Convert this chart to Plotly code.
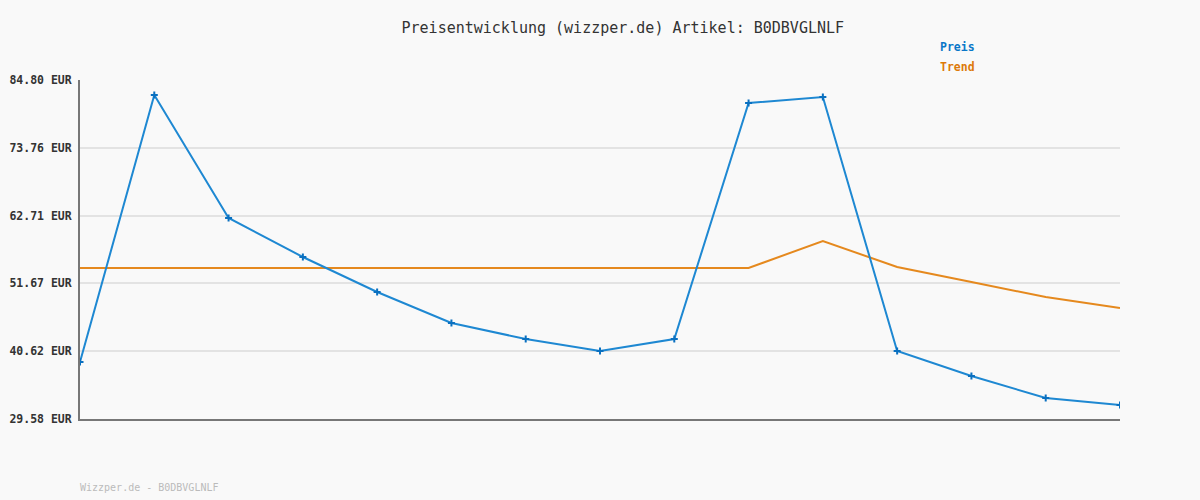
import plotly.graph_objects as go

x_idx = list(range(15))
preis = [38.86, 82.36, 62.32, 55.97, 50.27, 45.22, 42.61, 40.66, 42.61, 81.05, 82.03, 40.66, 36.58, 33.00, 31.86]
trend = [54.18, 54.18, 54.18, 54.18, 54.18, 54.18, 54.18, 54.18, 54.18, 54.18, 58.57, 54.34, 51.90, 49.45, 47.66]
y_ticks = [29.58, 40.62, 51.67, 62.71, 73.76, 84.80]
y_tick_labels = ["29.58 EUR", "40.62 EUR", "51.67 EUR", "62.71 EUR", "73.76 EUR", "84.80 EUR"]
title_text = "Preisentwicklung (wizzper.de) Artikel: B0DBVGLNLF"
footer_text = "Wizzper.de - B0DBVGLNLF"

FONT = "DejaVu Sans Mono"
BLUE = "#1e88d2"
ORANGE = "#e5891e"

fig = go.Figure()
fig.add_trace(go.Scatter(
    x=x_idx, y=trend, mode="lines", name="Trend",
    line=dict(color=ORANGE, width=2), hoverinfo="skip", showlegend=False,
))
fig.add_trace(go.Scatter(
    x=x_idx, y=preis, mode="lines+markers", name="Preis",
    line=dict(color=BLUE, width=2),
    marker=dict(symbol="cross-thin", size=5, color="#0a70c0", line=dict(color="#0a70c0", width=2)),
    showlegend=False,
))

fig.update_layout(
    width=1200, height=500,
    paper_bgcolor="#f9f9f9", plot_bgcolor="#f9f9f9",
    margin=dict(l=80, r=80, t=80, b=81, autoexpand=False),
    font=dict(family=FONT, color="#333333"),
    title=dict(text=title_text, x=0.519, xanchor="center", y=0.944, yanchor="middle",
               font=dict(family=FONT, size=15, color="#333333")),
    xaxis=dict(range=[0, 14], showgrid=False, zeroline=False, showticklabels=False,
               showline=True, linecolor="#777777", linewidth=2, ticks="", automargin=False),
    yaxis=dict(range=[29.58, 84.80], tickvals=y_ticks, ticktext=y_tick_labels,
               showgrid=True, gridcolor="#e3e3e3", gridwidth=2, zeroline=False,
               showline=True, linecolor="#777777", linewidth=2, ticks="",
               ticklabelstandoff=4, automargin=False,
               tickfont=dict(family=FONT, size=11.5, color="#333333", weight="bold")),
    annotations=[
        dict(text="<b>Preis</b>", x=938, y=47, showarrow=False,
             xanchor="left", yanchor="middle", font=dict(family=FONT, size=11.5, color="#0a77c8")),
        dict(text="<b>Trend</b>", x=938, y=67, showarrow=False,
             xanchor="left", yanchor="middle", font=dict(family=FONT, size=11.5, color="#dd7a0a")),
        dict(text=footer_text, x=78, y=487, showarrow=False,
             xanchor="left", yanchor="middle", font=dict(family=FONT, size=10, color="#bbbbbb")),
    ],
)

# convert pixel annotation positions to paper coordinates
pw, ph = 1200 - 80 - 80, 500 - 80 - 81
for a in fig.layout.annotations:
    px, py = a.x, a.y
    a.x = (px - 80) / pw
    a.y = 1 - (py - 80) / ph
    a.xref = "paper"; a.yref = "paper"

fig.write_html("out.html", config={"displayModeBar": False},
               post_script="document.body.style.margin='0';document.body.style.background='#f9f9f9';")
